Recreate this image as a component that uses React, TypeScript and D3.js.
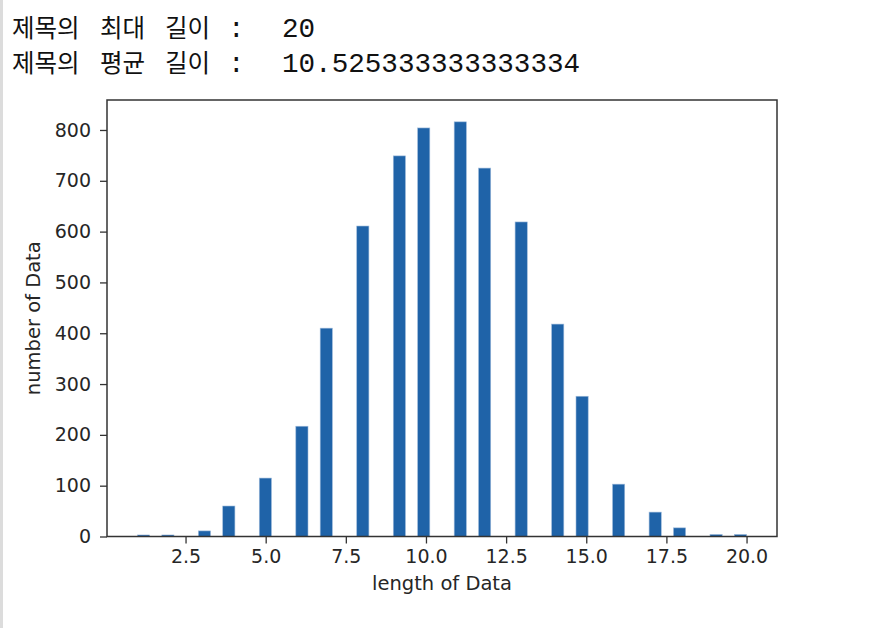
import * as d3 from "d3";
import { useEffect, useRef } from "react";

// counts of titles per length (1..20)
const lengths = [1, 2, 3, 4, 5, 6, 7, 8, 9, 10, 11, 12, 13, 14, 15, 16, 17, 18, 19, 20];
const counts = [3, 3, 11, 60, 115, 217, 410, 611, 749, 804, 816, 725, 619, 418, 276, 103, 48, 17, 4, 4];
const xTicks = [2.5, 5.0, 7.5, 10.0, 12.5, 15.0, 17.5, 20.0];
const yTicks = [0, 100, 200, 300, 400, 500, 600, 700, 800];
const headerLabels = [
  ["제목의", "최대", "길이", ":", "20"],
  ["제목의", "평균", "길이", ":", "10.525333333333334"],
];

export default function App() {
  const svgRef = useRef<SVGSVGElement | null>(null);

  useEffect(() => {
    const width = 870;
    const height = 628;
    const box = { left: 107, right: 777, top: 100, bottom: 536.5 };

    const svg = d3.select(svgRef.current);
    svg.selectAll("*").remove();
    svg.attr("width", width).attr("height", height);

    svg.append("rect").attr("width", width).attr("height", height).attr("fill", "#fff");
    svg.append("rect").attr("x", 0).attr("y", 0).attr("width", 3).attr("height", height).attr("fill", "#dcdcdc");

    // printed output above the figure
    const korean = "'Noto Sans CJK KR', sans-serif";
    const mono = "'Liberation Mono', monospace";
    headerLabels.forEach((row, i) => {
      const y = 37 + i * 35;
      const xs = [12, 100, 165, 228, 282];
      row.forEach((t, j) => {
        svg
          .append("text")
          .attr("x", xs[j])
          .attr("y", y)
          .attr("font-family", j < 3 ? korean : mono)
          .attr("font-size", j < 3 ? 24.5 : 27.6)
          .attr("fill", "#111")
          .text(t);
      });
    });

    const x = d3.scaleLinear().domain([0.05, 20.95]).range([box.left, box.right]);
    const y = d3.scaleLinear().domain([0, 859]).range([box.bottom, box.top]);

    const values: number[] = [];
    lengths.forEach((l, i) => {
      for (let k = 0; k < counts[i]; k++) values.push(l);
    });
    const nBins = 50;
    const edges = d3.range(1, nBins).map((i) => 1 + (i * 19) / nBins);
    const bins = d3.bin().domain([1, 20]).thresholds(edges)(values);

    svg
      .append("g")
      .selectAll("rect")
      .data(bins.filter((b) => b.length > 0))
      .join("rect")
      .attr("x", (d) => x(d.x0!))
      .attr("y", (d) => y(d.length))
      .attr("width", (d) => x(d.x1!) - x(d.x0!))
      .attr("height", (d) => y(0) - y(d.length))
      .attr("fill", "#1f63a8")
      .attr("stroke", "#9dbadb")
      .attr("stroke-width", 0.6);

    const tickFont = "'DejaVu Sans', sans-serif";
    const textColor = "#262626";

    const xAxis = svg
      .append("g")
      .attr("transform", `translate(0,${box.bottom})`)
      .call(d3.axisBottom(x).tickValues(xTicks).tickFormat(d3.format(".1f")).tickSize(7).tickPadding(6));
    const yAxis = svg
      .append("g")
      .attr("transform", `translate(${box.left},0)`)
      .call(d3.axisLeft(y).tickValues(yTicks).tickSize(7).tickPadding(9));

    [xAxis, yAxis].forEach((g) => {
      g.select(".domain").remove();
      g.selectAll("line").attr("stroke", "#333").attr("stroke-width", 1.3);
      g.selectAll("text")
        .attr("font-family", tickFont)
        .attr("font-size", 19)
        .attr("fill", textColor);
    });

    svg
      .append("rect")
      .attr("x", box.left)
      .attr("y", box.top)
      .attr("width", box.right - box.left)
      .attr("height", box.bottom - box.top)
      .attr("fill", "none")
      .attr("stroke", "#333")
      .attr("stroke-width", 1.5);

    svg
      .append("text")
      .attr("x", (box.left + box.right) / 2)
      .attr("y", 590)
      .attr("text-anchor", "middle")
      .attr("font-family", tickFont)
      .attr("font-size", 19.5)
      .attr("fill", textColor)
      .text("length of Data");

    svg
      .append("text")
      .attr("transform", `translate(40,${(box.top + box.bottom) / 2}) rotate(-90)`)
      .attr("text-anchor", "middle")
      .attr("font-family", tickFont)
      .attr("font-size", 19.5)
      .attr("fill", textColor)
      .text("number of Data");
  }, []);

  return <svg ref={svgRef} style={{ position: "absolute", left: 0, top: 0 }}></svg>;
}
